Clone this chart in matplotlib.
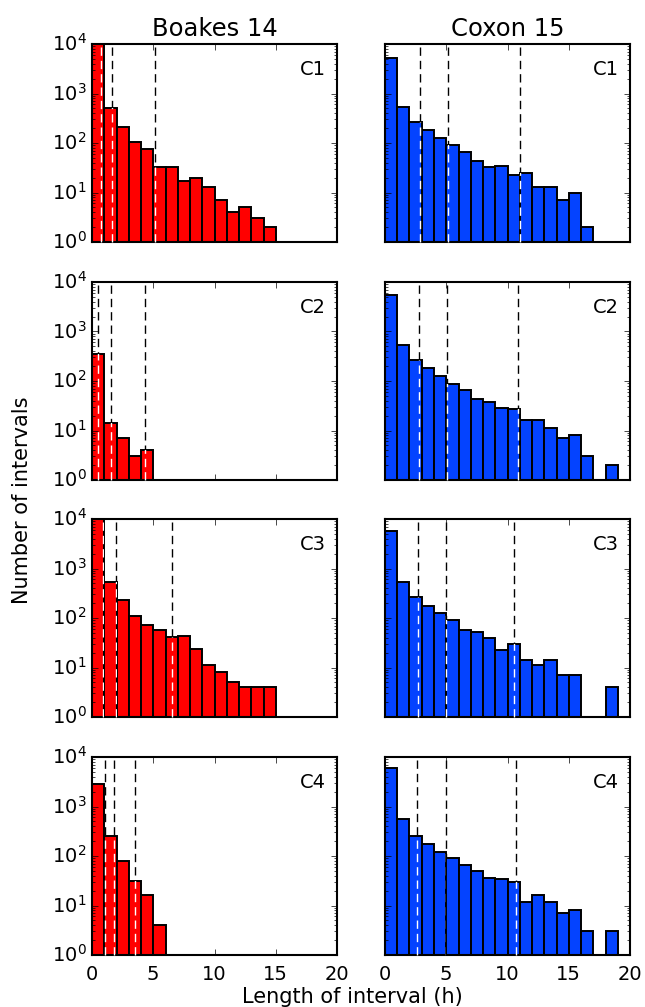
import numpy as np
import matplotlib
matplotlib.use("Agg")
import matplotlib.pyplot as plt

plt.style.use("classic")
plt.rcParams["figure.facecolor"] = "white"
plt.rcParams["savefig.facecolor"] = "white"
plt.rcParams["font.family"] = ["DejaVu Sans"]
plt.rcParams["axes.linewidth"] = 1.5

# ---------------- data ----------------
titles = ["Boakes 14", "Coxon 15"]
cohorts = ["C1", "C2", "C3", "C4"]
bin_width = 1.0

boakes_counts = {
    "C1": [15000, 500, 210, 106, 74, 33, 33, 17, 20, 13, 7, 4, 5, 3, 2],
    "C2": [352, 14, 7, 3, 4],
    "C3": [12000, 542, 227, 112, 72, 58, 42, 43, 24, 11, 8, 5, 4, 4, 4],
    "C4": [2830, 253, 81, 31, 16, 4],
}
coxon_counts = {
    "C1": [5200, 528, 262, 186, 126, 91, 65, 43, 32, 34, 23, 25, 13, 13, 7, 10, 2],
    "C2": [5450, 537, 271, 186, 128, 86, 67, 43, 38, 29, 27, 16, 16, 11, 7, 8, 3, 0, 2],
    "C3": [5700, 542, 269, 177, 125, 93, 57, 53, 40, 23, 30, 14, 11, 14, 7, 7, 0, 0, 4],
    "C4": [5980, 560, 257, 177, 122, 92, 65, 49, 36, 34, 30, 12, 16, 12, 7, 8, 3, 0, 3],
}
boakes_vlines = {
    "C1": [0.74, 1.64, 5.14],
    "C2": [0.46, 1.56, 4.32],
    "C3": [0.92, 1.98, 6.50],
    "C4": [1.09, 1.78, 3.47],
}
coxon_vlines = {
    "C1": [2.88, 5.16, 11.0],
    "C2": [2.81, 5.08, 10.82],
    "C3": [2.73, 5.0, 10.55],
    "C4": [2.62, 4.95, 10.68],
}
xticks = [0, 5, 10, 15, 20]

columns = [
    (boakes_counts, boakes_vlines, "#ff0000"),
    (coxon_counts, coxon_vlines, "#0443ff"),
]

# ---------------- layout ----------------
W, H = 645, 1007
fig = plt.figure(figsize=(W / 100, H / 100), dpi=100)

col_left_px = [92, 385]
col_width_px = 245
row_top_px = [44, 282, 519, 757]
row_h_px = 198

dash = (0, (6, 3.6))

for ci, (counts_d, vlines_d, color) in enumerate(columns):
    for ri, coh in enumerate(cohorts):
        left = col_left_px[ci] / W
        bottom = 1 - (row_top_px[ri] + row_h_px) / H
        ax = fig.add_axes([left, bottom, col_width_px / W, row_h_px / H])
        counts = np.array(counts_d[coh], dtype=float)
        edges = np.arange(len(counts)) * bin_width
        bars = ax.bar(edges, counts, width=bin_width, align="edge",
                      color=color, edgecolor="k", linewidth=1.4,
                      log=True, zorder=2)
        for xv in vlines_d[coh]:
            ax.axvline(xv, color="k", linestyle=dash, linewidth=1.0, zorder=1)
            for rect, cnt in zip(bars, counts):
                x0 = rect.get_x()
                if cnt > 0 and x0 <= xv <= x0 + rect.get_width():
                    wl = ax.axvline(xv, color="w", linestyle=dash,
                                    linewidth=1.0, zorder=3)
                    wl.set_clip_path(rect)
        ax.set_yscale("log")
        ax.set_ylim(1, 1e4)
        ax.set_xlim(0, 20)
        ax.set_xticks(xticks)
        ax.tick_params(axis="both", which="both", direction="in",
                       top=True, right=True, labelsize=14)
        ax.tick_params(axis="x", pad=7)
        if ci == 1:
            ax.tick_params(axis="y", labelleft=False)
        if ri < 3:
            ax.tick_params(axis="x", labelbottom=False)
        ax.text(0.955, 0.87, coh, transform=ax.transAxes, ha="right",
                va="center", fontsize=14)
        if ri == 0:
            ax.set_title(titles[ci], fontsize=17.5, pad=6)

fig.text(0.034, 0.503, "Number of intervals", rotation=90,
         ha="center", va="center", fontsize=15)
fig.text(0.547, 0.004, "Length of interval (h)", ha="center",
         va="baseline", fontsize=15)

fig.savefig("out.png", dpi=100)
